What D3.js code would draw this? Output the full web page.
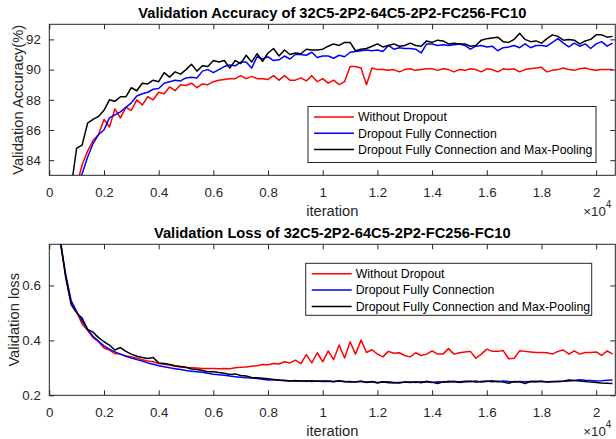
<!DOCTYPE html>
<html>
<head>
<meta charset="utf-8">
<script src="https://cdn.jsdelivr.net/npm/d3@7"></script>
<style>
  body { margin: 0; background: #fff; }
  text { font-family: "Liberation Sans", Arial, Helvetica, sans-serif; }
</style>
</head>
<body>
<div id="vis"></div>
<script>
const W = 616, H = 439;

// iterations sampled every 200 steps
const iterations = d3.range(200, 20601, 200);
const xTicks = [0, 2000, 4000, 6000, 8000, 10000, 12000, 14000, 16000, 18000, 20000];

const seriesNames = ["Without Dropout", "Dropout Fully Connection", "Dropout Fully Connection and Max-Pooling"];
const seriesColors = ["#ff0000", "#0000ff", "#000000"];

const accRed = [
    60, 70, 76, 79.5, 82.3, 83.7, 84.6, 85.3, 85.7, 86.7,
    86.2, 87.4, 86.8, 87.5, 87.3, 88.0, 87.65, 88.2, 88.0, 88.5,
    88.4, 88.85, 88.6, 89.0, 88.95, 89.1, 88.8, 89.05, 89.0, 89.2,
    89.3, 89.35, 89.4, 89.4, 89.6, 89.4, 89.55, 89.4, 89.4, 89.35,
    89.6, 89.3, 89.6, 89.3, 89.3, 89.45, 89.25, 89.6, 89.2, 89.4,
    89.1, 89.3, 89.0, 89.2, 90.2, 90.2, 90.1, 89.0, 90.1, 90.0,
    90.0, 89.95, 90.0, 89.85, 90.0, 90.05, 89.95, 90.0, 90.05, 90.05,
    89.95, 90.05, 90.0, 89.85, 90.0, 89.95, 90.05, 90.0, 89.85, 90.05,
    90.0, 89.85, 90.05, 90.0, 90.05, 89.85, 90.0, 90.05, 90.1, 90.15,
    89.85, 89.95, 90.0, 90.1, 90.0, 89.95, 90.05, 90.1, 90.0, 89.95,
    90.0, 90.0, 90.0
];
const accBlue = [
    58, 67, 74, 78.5, 82.3, 83.1, 84.2, 85.1, 85.7, 86.0,
    86.8, 87.0, 87.2, 87.5, 87.8, 88.25, 88.4, 88.5, 88.7, 88.75,
    89.1, 89.2, 89.3, 89.25, 89.45, 89.5, 89.45, 89.9, 90.0, 89.8,
    90.0, 90.2, 90.3, 90.25, 90.5, 90.5, 90.1, 90.85, 90.7, 90.85,
    90.6, 90.65, 90.9, 90.7, 91.0, 91.0, 90.95, 91.15, 90.8, 90.9,
    90.9, 90.75, 90.95, 90.85, 91.15, 91.2, 91.25, 91.3, 91.25, 91.3,
    91.2, 91.6, 91.35, 91.45, 91.4, 91.4, 91.35, 91.1, 91.7, 91.7,
    91.6, 91.65, 91.6, 91.65, 91.7, 91.6, 91.35, 91.55, 91.6, 91.5,
    91.55, 91.25, 91.45, 91.5, 91.6, 91.45, 91.7, 91.45, 91.6, 91.6,
    91.55, 91.8, 92.05, 91.75, 91.5, 91.75, 91.55, 91.7, 91.4, 91.7,
    91.85, 91.55, 91.75
];
const accBlack = [
    62, 72, 78, 82.2, 84.8, 85.0, 86.45, 86.7, 86.9, 87.3,
    88.0, 87.9, 88.2, 88.2, 88.8, 88.6, 89.1, 89.05, 89.3, 89.2,
    89.8, 89.5, 89.85, 89.7, 90.0, 90.35, 89.9, 90.25, 90.2, 90.6,
    90.5, 90.6, 90.1, 90.6, 90.4, 90.95, 90.5, 91.05, 90.55, 91.1,
    91.4, 90.9, 91.3, 91.0, 91.1, 91.05, 91.35, 91.3, 91.3, 91.35,
    91.55, 91.7, 91.6, 91.8, 91.8, 91.25, 91.35, 91.4, 91.55, 91.7,
    91.5, 91.6, 91.7, 91.55, 91.6, 91.75, 91.6, 91.55, 91.9, 91.8,
    91.95, 91.9, 91.7, 91.75, 91.7, 91.7, 91.55, 91.6, 91.95, 92.05,
    92.1, 92.15, 91.85, 91.8, 92.0, 92.4, 92.0, 91.85, 91.9, 91.75,
    92.05, 92.3, 92.2, 91.95, 92.0, 91.95, 91.7, 91.9, 92.0, 92.3,
    92.3, 92.15, 92.2
];

const lossRed = [
    1.2, 0.76, 0.631, 0.535, 0.504, 0.46, 0.437, 0.41, 0.395, 0.372,
    0.365, 0.352, 0.35, 0.343, 0.34, 0.335, 0.33, 0.325, 0.322, 0.316,
    0.313, 0.31, 0.306, 0.303, 0.301, 0.3, 0.299, 0.298, 0.298, 0.298,
    0.297, 0.298, 0.297, 0.3, 0.302, 0.303, 0.306, 0.308, 0.312, 0.311,
    0.316, 0.314, 0.322, 0.318, 0.328, 0.315, 0.348, 0.318, 0.355, 0.322,
    0.362, 0.33, 0.383, 0.336, 0.395, 0.35, 0.401, 0.356, 0.366, 0.35,
    0.34, 0.36, 0.353, 0.355, 0.345, 0.34, 0.355, 0.345, 0.35, 0.362,
    0.35, 0.35, 0.37, 0.35, 0.355, 0.358, 0.36, 0.335, 0.35, 0.368,
    0.36, 0.36, 0.363, 0.333, 0.335, 0.362, 0.36, 0.358, 0.356, 0.356,
    0.355, 0.35, 0.36, 0.365, 0.35, 0.362, 0.35, 0.356, 0.356, 0.358,
    0.345, 0.362, 0.35
];
const lossBlue = [
    1.2, 0.76, 0.64, 0.545, 0.505, 0.47, 0.44, 0.415, 0.397, 0.38,
    0.368, 0.358, 0.35, 0.342, 0.336, 0.33, 0.325, 0.318, 0.313, 0.308,
    0.304, 0.3, 0.297, 0.294, 0.29, 0.288, 0.286, 0.284, 0.28, 0.277,
    0.275, 0.273, 0.27, 0.268, 0.266, 0.264, 0.263, 0.261, 0.258, 0.256,
    0.257, 0.255, 0.253, 0.252, 0.254, 0.251, 0.253, 0.25, 0.252, 0.25,
    0.251, 0.249, 0.252, 0.25, 0.248, 0.249, 0.251, 0.248, 0.249, 0.247,
    0.248, 0.249, 0.246, 0.247, 0.248, 0.248, 0.247, 0.249, 0.248, 0.247,
    0.249, 0.248, 0.251, 0.25, 0.249, 0.251, 0.25, 0.252, 0.248, 0.25,
    0.253, 0.249, 0.252, 0.25, 0.248, 0.25, 0.249, 0.25, 0.251, 0.25,
    0.249, 0.25, 0.25, 0.251, 0.252, 0.254, 0.257, 0.255, 0.254, 0.252,
    0.253, 0.255, 0.256
];
const lossBlack = [
    1.2, 0.77, 0.63, 0.53, 0.5, 0.481, 0.44, 0.43, 0.41, 0.395,
    0.383, 0.365, 0.374, 0.36, 0.35, 0.342, 0.338, 0.334, 0.338, 0.318,
    0.316, 0.312, 0.308, 0.305, 0.302, 0.296, 0.294, 0.29, 0.286, 0.286,
    0.283, 0.28, 0.276, 0.278, 0.272, 0.27, 0.265, 0.264, 0.262, 0.26,
    0.258, 0.256, 0.255, 0.252, 0.253, 0.252, 0.251, 0.253, 0.251, 0.252,
    0.252, 0.25, 0.253, 0.249, 0.25, 0.248, 0.251, 0.247, 0.25, 0.245,
    0.249, 0.246, 0.247, 0.245, 0.248, 0.247, 0.249, 0.246, 0.251, 0.248,
    0.243, 0.249, 0.248, 0.25, 0.247, 0.249, 0.251, 0.248, 0.25, 0.252,
    0.249, 0.251, 0.248, 0.244, 0.25, 0.249, 0.243, 0.25, 0.249, 0.251,
    0.248, 0.249, 0.25, 0.251, 0.256, 0.254, 0.252, 0.25, 0.248, 0.247,
    0.245, 0.244, 0.243
];

const axisColor = "#262626";

const svg = d3.select("#vis")
    .append("svg")
    .attr("width", W)
    .attr("height", H);

function drawPanel(cfg) {
    const x = d3.scaleLinear().domain([0, 20700]).range([cfg.left, cfg.right]);
    const y = d3.scaleLinear().domain(cfg.yDomain).range([cfg.bottom, cfg.top]);
    const g = svg.append("g");

    g.append("clipPath")
        .attr("id", cfg.id + "-clip")
        .append("rect")
        .attr("x", cfg.left)
        .attr("y", cfg.top)
        .attr("width", cfg.right - cfg.left)
        .attr("height", cfg.bottom - cfg.top);

    // lines
    const line = d3.line()
        .x((d, i) => x(iterations[i]))
        .y(d => y(d));

    cfg.series.forEach((vals, k) => {
        g.append("path")
            .datum(vals)
            .attr("clip-path", `url(#${cfg.id}-clip)`)
            .attr("d", line)
            .attr("fill", "none")
            .attr("stroke", seriesColors[k])
            .attr("stroke-width", 1.5)
            .attr("stroke-linejoin", "round");
    });

    // axes (ticks point inward on every side)
    const xAxis = g.append("g")
        .attr("transform", `translate(0,${cfg.bottom})`)
        .call(d3.axisBottom(x).tickValues(xTicks).tickFormat(d => d / 10000)
            .tickSizeInner(-5).tickSizeOuter(0).tickPadding(12));
    const xTop = g.append("g")
        .attr("transform", `translate(0,${cfg.top})`)
        .call(d3.axisTop(x).tickValues(xTicks).tickFormat("")
            .tickSizeInner(-5).tickSizeOuter(0));
    const yAxis = g.append("g")
        .attr("transform", `translate(${cfg.left},0)`)
        .call(d3.axisLeft(y).tickValues(cfg.yTicks).tickFormat(cfg.yFormat)
            .tickSizeInner(-5).tickSizeOuter(0).tickPadding(8.5));
    const yRight = g.append("g")
        .attr("transform", `translate(${cfg.right},0)`)
        .call(d3.axisRight(y).tickValues(cfg.yTicks).tickFormat("")
            .tickSizeInner(-5).tickSizeOuter(0));

    [xAxis, xTop, yAxis, yRight].forEach(a => {
        a.select(".domain").remove();
        a.selectAll("line").attr("stroke", axisColor);
        a.selectAll("text")
            .attr("fill", axisColor)
            .style("font-size", "13.3px")
            .style("font-family", "'Liberation Sans', Arial, sans-serif");
    });

    g.append("rect")
        .attr("x", cfg.left)
        .attr("y", cfg.top)
        .attr("width", cfg.right - cfg.left)
        .attr("height", cfg.bottom - cfg.top)
        .attr("fill", "none")
        .attr("stroke", axisColor)
        .attr("stroke-width", 1);

    // title and labels
    g.append("text")
        .attr("x", (cfg.left + cfg.right) / 2)
        .attr("y", cfg.top - 6)
        .attr("text-anchor", "middle")
        .style("font-size", "14.7px")
        .style("font-weight", "bold")
        .attr("fill", "#000")
        .text(cfg.title);

    g.append("text")
        .attr("x", (cfg.left + cfg.right) / 2)
        .attr("y", cfg.bottom + 41)
        .attr("text-anchor", "middle")
        .style("font-size", "14.7px")
        .attr("fill", axisColor)
        .text("iteration");

    g.append("text")
        .attr("transform", `translate(${cfg.yLabelX},${(cfg.top + cfg.bottom) / 2}) rotate(-90)`)
        .attr("text-anchor", "middle")
        .style("font-size", "14.7px")
        .attr("fill", axisColor)
        .text(cfg.yLabel);

    const exp = g.append("text")
        .attr("x", cfg.right - 32)
        .attr("y", cfg.bottom + 41)
        .style("font-size", "13.3px")
        .attr("fill", axisColor);
    exp.append("tspan").text("\u00d710");
    exp.append("tspan").attr("dy", -8).style("font-size", "10px").text("4");

    // legend
    const lg = g.append("g");
    lg.append("rect")
        .attr("x", cfg.legend.x)
        .attr("y", cfg.legend.y)
        .attr("width", cfg.legend.w)
        .attr("height", cfg.legend.h)
        .attr("fill", "#fff")
        .attr("stroke", axisColor)
        .attr("stroke-width", 1);
    seriesNames.forEach((name, k) => {
        const ry = cfg.legend.y + 10.5 + k * 16.3;
        lg.append("line")
            .attr("x1", cfg.legend.x + 6)
            .attr("x2", cfg.legend.x + 46)
            .attr("y1", ry)
            .attr("y2", ry)
            .attr("stroke", seriesColors[k])
            .attr("stroke-width", 1.5);
        lg.append("text")
            .attr("x", cfg.legend.x + 50)
            .attr("y", ry)
            .attr("dy", "0.35em")
            .style("font-size", "12.3px")
            .attr("fill", "#000")
            .text(name);
    });
}

drawPanel({
    id: "acc",
    left: 49.3, right: 615.3, top: 24.3, bottom: 175.3,
    yDomain: [83, 93],
    yTicks: [84, 86, 88, 90, 92],
    yFormat: d => d,
    title: "Validation Accuracy of 32C5-2P2-64C5-2P2-FC256-FC10",
    yLabel: "Validation Accuracy(%)",
    yLabelX: 23,
    series: [accRed, accBlue, accBlack],
    legend: { x: 308, y: 106.5, w: 288, h: 56 }
});

drawPanel({
    id: "loss",
    left: 49.3, right: 615.3, top: 244.3, bottom: 395.3,
    yDomain: [0.2, 0.75],
    yTicks: [0.2, 0.4, 0.6],
    yFormat: d3.format(".1f"),
    title: "Validation Loss of 32C5-2P2-64C5-2P2-FC256-FC10",
    yLabel: "Validation loss",
    yLabelX: 18.5,
    series: [lossRed, lossBlue, lossBlack],
    legend: { x: 305.7, y: 263.3, w: 286, h: 52 }
});
</script>
</body>
</html>
